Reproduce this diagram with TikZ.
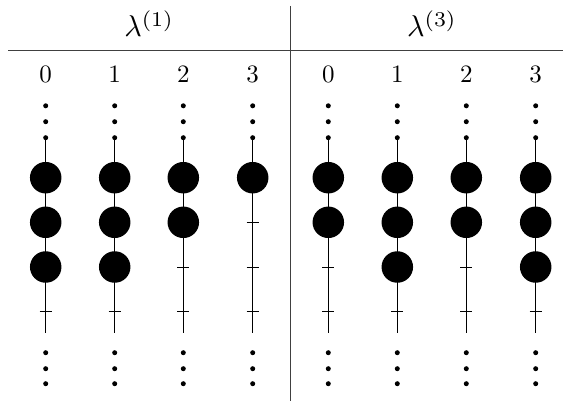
\documentclass[tikz,border=0pt]{standalone}
\begin{document}
\begin{tikzpicture}[x=1pt,y=-1pt,
  ball/.style={circle,fill=black,inner sep=0pt,minimum size=31.5pt},
  dotn/.style={circle,fill=black,inner sep=0pt,minimum size=5pt},
  rail/.style={line width=0.7pt},
  tickmark/.style={line width=0.7pt},
  rulel/.style={line width=1pt,black!75},
  lab/.style={scale=2.5,anchor=base,inner sep=0pt},
  head/.style={scale=3,anchor=base,inner sep=0pt}]
\useasboundingbox (0,0) rectangle (563,401);
% headers and rules
\node[head] (h1) at (149.2,37) {$\lambda^{(1)}$};
\node[head] (h3) at (432,37) {$\lambda^{(3)}$};
\coordinate (hl) at (8,50.7);
\coordinate (hr) at (563,50.7);
\coordinate (vt) at (290.7,6);
\coordinate (vb) at (290.7,401);
\draw[rulel] (hl) -- (hr);
\draw[rulel] (vt) -- (vb);
% columns
\foreach \x/\n/\d/\nb in {45.7/a0/0/3, 114.7/a1/1/3, 183.3/a2/2/2, 252.7/a3/3/1,
                           328.3/b0/0/2, 397.3/b1/1/3, 466.3/b2/2/2, 535.7/b3/3/3}{
  \node[lab] (\n-lab) at (\x,82.7) {$\d$};
  \node[dotn] (\n-t1) at (\x,105.8) {};
  \node[dotn] (\n-t2) at (\x,121.7) {};
  \node[dotn] (\n-t3) at (\x,137.7) {};
  \coordinate (\n-end) at (\x,333);
  \draw[rail] (\n-t3) -- (\n-end);
  \foreach \k/\yy in {1/177.7, 2/222.3, 3/267.0, 4/311.7}{
    \ifnum\k>\nb
      \coordinate (\n-s\k) at (\x,\yy);
      \draw[tickmark] ([xshift=-6pt]\n-s\k) -- ([xshift=6pt]\n-s\k);
    \else
      \node[ball] (\n-s\k) at (\x,\yy) {};
    \fi
  }
  \node[dotn] (\n-b1) at (\x,352.7) {};
  \node[dotn] (\n-b2) at (\x,368.7) {};
  \node[dotn] (\n-b3) at (\x,383.7) {};
}
\end{tikzpicture}
\end{document}
